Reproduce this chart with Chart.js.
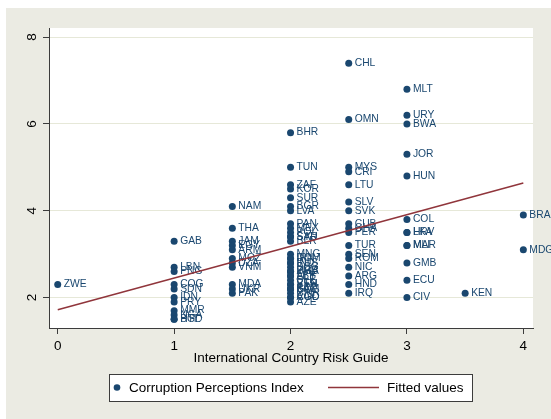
<!DOCTYPE html>
<html>
<head>
<meta charset="utf-8">
<script src="https://cdn.jsdelivr.net/npm/chart.js@4.4.0/dist/chart.umd.min.js"></script>
<style>
  body { margin: 0; background: #fff; }
  #wrap { position: absolute; left: 6px; top: 8px; width: 545px; height: 411px; }
</style>
</head>
<body>
<div id="wrap"><canvas id="cpiChart" width="545" height="411"></canvas></div>
<script>
// ICRG corruption score (x) against CPI (y), one list per ICRG level
const icrgLevels = [0, 1, 1.5, 2, 2.5, 3, 3.5, 4];

const codesByLevel = [
    ['ZWE'],
    ['GAB', 'LBN', 'PNG', 'COG', 'SDN', 'IDN', 'PRY', 'MMR', 'NGA', 'HTI', 'BGD'],
    ['NAM', 'THA', 'JAM', 'EGY', 'ARM', 'MOZ', 'DZA', 'VNM', 'MDA', 'UKR', 'PAK'],
    ['BHR', 'TUN', 'ZAF', 'KOR', 'SUR', 'BGR', 'LVA', 'PAN', 'MEX', 'POL', 'SAU', 'SYR', 'BLR',
     'MNG', 'DOM', 'IRN', 'IND', 'RUS', 'SCG', 'PHL', 'UGA', 'ZMB', 'ALB', 'LBY', 'SLE',
     'ETH', 'VEN', 'GTM', 'BOL', 'KAZ', 'CMR', 'AGO', 'COD', 'AZE'],
    ['CHL', 'OMN', 'MYS', 'CRI', 'LTU', 'SLV', 'SVK', 'CUB', 'GHA', 'PER', 'TUR', 'SEN', 'ROM',
     'NIC', 'ARG', 'HND', 'IRQ'],
    ['MLT', 'URY', 'BWA', 'JOR', 'HUN', 'COL', 'HRV', 'LKA', 'MAR', 'MLI', 'GMB', 'ECU', 'CIV'],
    ['KEN'],
    ['BRA', 'MDG']
];

const cpiByLevel = [
    [2.3],
    [3.3, 2.7, 2.6, 2.3, 2.2, 2.0, 1.9, 1.7, 1.6, 1.5, 1.5],
    [4.1, 3.6, 3.3, 3.2, 3.1, 2.9, 2.8, 2.7, 2.3, 2.2, 2.1],
    [5.8, 5.0, 4.6, 4.5, 4.3, 4.1, 4.0, 3.7, 3.6, 3.5, 3.4, 3.4, 3.3,
     3.0, 2.9, 2.9, 2.8, 2.8, 2.7, 2.6, 2.6, 2.6, 2.5, 2.5, 2.4,
     2.3, 2.3, 2.2, 2.2, 2.2, 2.1, 2.0, 2.0, 1.9],
    [7.4, 6.1, 5.0, 4.9, 4.6, 4.2, 4.0, 3.7, 3.6, 3.5, 3.2, 3.0, 2.9,
     2.7, 2.5, 2.3, 2.1],
    [6.8, 6.2, 6.0, 5.3, 4.8, 3.8, 3.5, 3.5, 3.2, 3.2, 2.8, 2.4, 2.0],
    [2.1],
    [3.9, 3.1]
];

// end points of the fitted line
const fitX = [0, 4];
const fitY = [1.72, 4.64];

const xTicks = [0, 1, 2, 3, 4];
const yTicks = [2, 4, 6, 8];

const NAVY = '#1a476f';
const MAROON = '#90353b';
const AXIS = '#3c3c3c';
const FONT = 'Liberation Sans, Arial, Helvetica, sans-serif';

const points = [];
const pointCodes = [];
icrgLevels.forEach((level, i) => {
    cpiByLevel[i].forEach((cpi, j) => {
        points.push({ x: level, y: cpi });
        pointCodes.push(codesByLevel[i][j]);
    });
});

const fitted = fitX.map((x, i) => ({ x: x, y: fitY[i] }));

// grey graph region, white plot region
const backgroundPlugin = {
    id: 'background',
    beforeDraw(chart) {
        const { ctx, chartArea } = chart;
        ctx.save();
        ctx.fillStyle = '#ebebe3';
        ctx.fillRect(0, 0, chart.width, chart.height);
        ctx.fillStyle = '#ffffff';
        ctx.fillRect(chartArea.left, chartArea.top, chartArea.right - chartArea.left, chartArea.bottom - chartArea.top);
        ctx.restore();
    }
};

// country code to the right of each marker
const markerLabels = {
    id: 'markerLabels',
    afterDatasetDraw(chart, args) {
        if (args.index !== 0) return;
        const ctx = chart.ctx;
        ctx.save();
        ctx.font = '10.3px ' + FONT;
        ctx.fillStyle = NAVY;
        ctx.textAlign = 'left';
        ctx.textBaseline = 'middle';
        args.meta.data.forEach((el, i) => {
            ctx.fillText(pointCodes[i], el.x + 6, el.y);
        });
        ctx.restore();
    }
};

// boxed legend under the axis title
const boxLegend = {
    id: 'boxLegend',
    afterDraw(chart) {
        const ctx = chart.ctx;
        const top = 366, left = 103, w = 363, h = 27;
        const cy = top + h / 2;
        ctx.save();
        ctx.fillStyle = '#ffffff';
        ctx.fillRect(left, top, w, h);
        ctx.strokeStyle = AXIS;
        ctx.lineWidth = 1;
        ctx.strokeRect(left + 0.5, top + 0.5, w, h);

        ctx.fillStyle = NAVY;
        ctx.beginPath();
        ctx.arc(left + 8, cy, 3.3, 0, Math.PI * 2);
        ctx.fill();

        ctx.strokeStyle = MAROON;
        ctx.lineWidth = 1.5;
        ctx.beginPath();
        ctx.moveTo(left + 219, cy);
        ctx.lineTo(left + 270, cy);
        ctx.stroke();

        ctx.fillStyle = '#000';
        ctx.font = '13.5px ' + FONT;
        ctx.textBaseline = 'middle';
        ctx.fillText(chart.data.datasets[0].label, left + 20, cy + 0.5);
        ctx.fillText(chart.data.datasets[1].label, left + 278, cy + 0.5);
        ctx.restore();
    }
};

const ctx = document.getElementById('cpiChart').getContext('2d');

new Chart(ctx, {
    type: 'scatter',
    data: {
        datasets: [{
            label: 'Corruption Perceptions Index',
            data: points,
            order: 1,
            pointRadius: 3.5,
            pointBackgroundColor: NAVY,
            pointBorderWidth: 0,
            showLine: false
        }, {
            label: 'Fitted values',
            type: 'line',
            data: fitted,
            order: 0,
            borderColor: MAROON,
            borderWidth: 1.5,
            pointRadius: 0,
            fill: false,
            tension: 0
        }]
    },
    options: {
        responsive: false,
        animation: false,
        layout: { padding: { top: 20, right: 18, bottom: 51, left: 0 } },
        plugins: {
            legend: { display: false },
            tooltip: { enabled: false }
        },
        scales: {
            x: {
                type: 'linear',
                min: -0.075,
                max: 4.083,
                afterBuildTicks: s => { s.ticks = xTicks.map(v => ({ value: v })); },
                afterFit: s => { s.height = 40; },
                grid: { drawOnChartArea: false, tickLength: 6, tickColor: AXIS },
                border: { color: AXIS, width: 1 },
                ticks: { font: { family: FONT, size: 13.5 }, color: '#000', padding: 4, maxRotation: 0 },
                title: {
                    display: true,
                    text: 'International Country Risk Guide',
                    font: { family: FONT, size: 13.5 },
                    color: '#000',
                    padding: { top: 0, bottom: 2 }
                }
            },
            y: {
                type: 'linear',
                min: 1.30,
                max: 8.21,
                afterBuildTicks: s => { s.ticks = yTicks.map(v => ({ value: v })); },
                afterFit: s => { s.width = 43; },
                grid: { color: '#e6e8d8', tickLength: 6, tickColor: AXIS },
                border: { color: AXIS, width: 1 },
                ticks: {
                    font: { family: FONT, size: 13.5 },
                    color: '#000',
                    minRotation: 90,
                    maxRotation: 90,
                    crossAlign: 'center',
                    padding: 6.5
                }
            }
        }
    },
    plugins: [backgroundPlugin, markerLabels, boxLegend]
});
</script>
</body>
</html>
